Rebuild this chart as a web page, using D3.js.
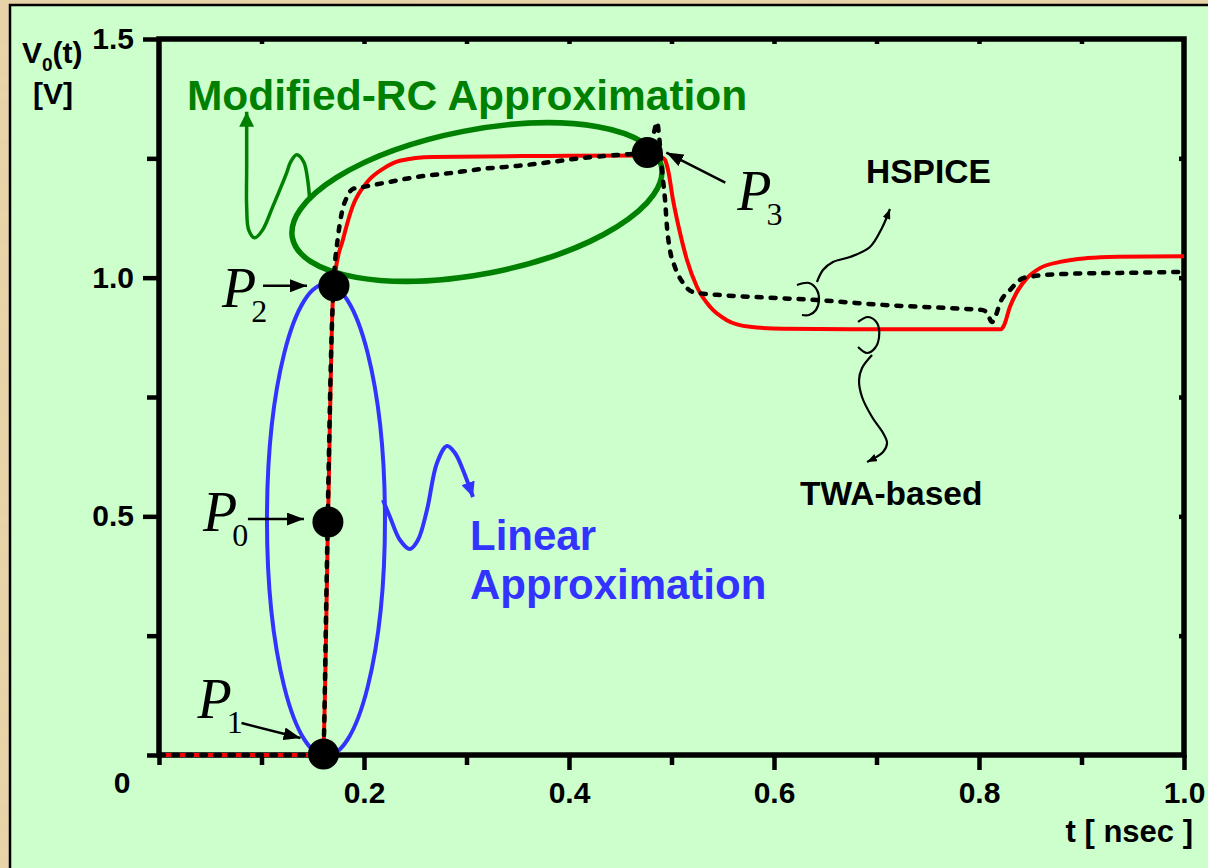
<!DOCTYPE html>
<html>
<head>
<meta charset="utf-8" />
<title>V0(t) - TWA-based vs HSPICE</title>
<script src="https://d3js.org/d3.v7.min.js"></script>
<style>
  body { margin: 0; background: #e9d4a7; }
  svg { display: block; }
</style>
</head>
<body>
<script>
// ---- data (t in nsec, V in volts) ----
const hspiceT = [0, 0.157, 0.1605, 0.163, 0.1655, 0.168, 0.1705, 0.1746, 0.1785, 0.1834, 0.1893, 0.199, 0.2185, 0.2517, 0.2839, 0.3161, 0.3493, 0.3815, 0.4137, 0.4468, 0.4693, 0.478, 0.483, 0.4859, 0.4878, 0.4898, 0.4917, 0.4937, 0.4956, 0.4985, 0.5034, 0.5112, 0.521, 0.5444, 0.5766, 0.642, 0.7063, 0.7717, 0.8039, 0.8078, 0.8127, 0.8166, 0.8205, 0.8302, 0.8429, 0.8527, 0.8859, 0.9376, 1.0];
const hspiceV = [0, 0, 0.02, 0.3, 0.6, 0.85, 0.99, 1.085, 1.138, 1.169, 1.186, 1.19, 1.198, 1.211, 1.219, 1.228, 1.234, 1.242, 1.251, 1.257, 1.261, 1.267, 1.305, 1.326, 1.299, 1.247, 1.205, 1.163, 1.106, 1.058, 1.022, 0.989, 0.97, 0.964, 0.96, 0.953, 0.943, 0.936, 0.932, 0.926, 0.907, 0.922, 0.947, 0.974, 0.999, 1.003, 1.008, 1.01, 1.012];

const twaT = [0, 0.1595, 0.1605, 0.165, 0.1695, 0.172, 0.1795, 0.189, 0.203, 0.2185, 0.235, 0.267, 0.381, 0.48, 0.4905, 0.4937, 0.4966, 0.5015, 0.5083, 0.5151, 0.525, 0.5376, 0.554, 0.5766, 0.609, 0.7, 0.8215, 0.8244, 0.8302, 0.837, 0.8468, 0.8595, 0.879, 0.9054, 0.935, 1.0];
const twaV = [0, 0, 0.02, 0.5, 0.95, 1.01, 1.08, 1.15, 1.2, 1.228, 1.245, 1.253, 1.255, 1.256, 1.252, 1.247, 1.226, 1.163, 1.094, 1.037, 0.98, 0.939, 0.911, 0.897, 0.893, 0.892, 0.892, 0.9, 0.939, 0.97, 0.999, 1.02, 1.033, 1.041, 1.044, 1.045];

const pointNames = ["0", "1", "2", "3"];
const pointT = [0.1648, 0.1605, 0.1707, 0.4764];
const pointV = [0.488, 0.002, 0.983, 1.262];

const xMajor = [0.2, 0.4, 0.6, 0.8, 1.0];
const xMinor = [0.1, 0.3, 0.5, 0.7, 0.9];
const yMajor = [0.5, 1.0, 1.5];
const yMinor = [0.25, 0.75, 1.25];

const width = 1208, height = 868;
const sans = "'Liberation Sans', Arial, Helvetica, sans-serif";
const serif = "'Liberation Serif', 'Times New Roman', serif";

const x = d3.scaleLinear().domain([0, 1]).range([159, 1184]);
const y = d3.scaleLinear().domain([0, 1.5]).range([755, 39]);

const svg = d3.select("body").append("svg")
  .attr("width", width).attr("height", height);

const defs = svg.append("defs");
const paper = defs.append("filter").attr("id", "paper")
  .attr("x", 0).attr("y", 0).attr("width", 1).attr("height", 1);
paper.append("feTurbulence").attr("type", "fractalNoise")
  .attr("baseFrequency", "0.02 0.07").attr("numOctaves", 3).attr("seed", 7);
paper.append("feColorMatrix").attr("type", "matrix")
  .attr("values", "0 0 0 0 0.78  0 0 0 0 0.64  0 0 0 0 0.42  1.4 0 0 0 -0.5");

// arrowheads
function marker(id, color, w, h) {
  defs.append("marker").attr("id", id)
    .attr("viewBox", `0 0 ${w} ${h}`)
    .attr("refX", w).attr("refY", h / 2)
    .attr("markerWidth", w).attr("markerHeight", h)
    .attr("markerUnits", "userSpaceOnUse")
    .attr("orient", "auto")
    .append("path").attr("d", `M0,0L${w},${h / 2}L0,${h}Z`).attr("fill", color);
}
marker("arBlack", "#000", 17, 13);
marker("arSmall", "#000", 10, 8);
marker("arGreen", "#008000", 15, 15);
marker("arBlue", "#3333ff", 15, 14);

// background
svg.append("rect").attr("width", width).attr("height", height).attr("fill", "#e9d4a7");
svg.append("rect").attr("width", width).attr("height", height).attr("filter", "url(#paper)");
svg.append("rect").attr("x", 10).attr("y", 5).attr("width", 1230).attr("height", 900)
  .attr("fill", "#ccffcc").attr("stroke", "#000").attr("stroke-width", 2.5);

// ---- axes ----
function styleAxis(g) {
  g.select(".domain").remove();
  g.selectAll(".tick line").attr("stroke", "#000").attr("stroke-width", 4.5);
  g.attr("font-family", sans).attr("font-size", 30).attr("font-weight", "bold");
  g.selectAll(".tick text").attr("fill", "#000");
}
svg.append("g").attr("transform", `translate(0,${y(0)})`)
  .call(d3.axisBottom(x).tickValues(xMajor).tickSize(15).tickPadding(12)
    .tickFormat(d3.format(".1f")).tickSizeOuter(0))
  .call(styleAxis);
svg.append("g").attr("transform", `translate(0,${y(0)})`)
  .call(d3.axisBottom(x).tickValues(xMinor.concat([0])).tickSize(10).tickFormat("").tickSizeOuter(0))
  .call(styleAxis);
svg.append("g").attr("transform", `translate(${x(0)},0)`)
  .call(d3.axisLeft(y).tickValues(yMajor).tickSize(16).tickPadding(9)
    .tickFormat(d3.format(".1f")).tickSizeOuter(0))
  .call(styleAxis);
svg.append("g").attr("transform", `translate(${x(0)},0)`)
  .call(d3.axisLeft(y).tickValues(yMinor.concat([0])).tickSize(12).tickFormat("").tickSizeOuter(0))
  .call(styleAxis);
svg.select("g:last-of-type").selectAll(".tick").filter(d => d === 0)
  .select("line").attr("x2", -16);
// small inward ticks on top and right
svg.append("g").attr("transform", `translate(0,${y(1.5)})`)
  .call(d3.axisTop(x).tickValues(xMinor.concat(xMajor.slice(0, 4))).tickSize(-5).tickFormat("").tickSizeOuter(0))
  .call(styleAxis);
svg.append("g").attr("transform", `translate(${x(1)},0)`)
  .call(d3.axisRight(y).tickValues(yMinor.concat([0.5, 1.0])).tickSize(-5).tickFormat("").tickSizeOuter(0))
  .call(styleAxis);
// frame
svg.append("rect").attr("x", x(0)).attr("y", y(1.5))
  .attr("width", x(1) - x(0)).attr("height", y(0) - y(1.5))
  .attr("fill", "none").attr("stroke", "#000").attr("stroke-width", 5.5);

// axis titles
const lbl = svg.append("g").attr("font-family", sans).attr("font-weight", "bold").attr("fill", "#000");
lbl.append("text").attr("x", 122).attr("y", 793).attr("font-size", 30).attr("text-anchor", "middle").text("0");
const vt = lbl.append("text").attr("x", 22).attr("y", 63).attr("font-size", 30);
vt.append("tspan").text("V");
vt.append("tspan").attr("font-size", 19).attr("dy", 8).text("0");
vt.append("tspan").attr("dy", -8).text("(t)");
lbl.append("text").attr("x", 33).attr("y", 104).attr("font-size", 30).text("[V]");
lbl.append("text").attr("x", 1193).attr("y", 842).attr("font-size", 31)
  .attr("text-anchor", "end").text("t [ nsec ]");

// ---- approximation ellipses ----
svg.append("ellipse")
  .attr("transform", `translate(${x(0.3102)},${y(1.1585)}) rotate(-11)`)
  .attr("rx", 188).attr("ry", 72)
  .attr("fill", "none").attr("stroke", "#008000").attr("stroke-width", 5.5);
svg.append("ellipse")
  .attr("cx", x(0.1629)).attr("cy", y(0.4923)).attr("rx", 59).attr("ry", 236)
  .attr("fill", "none").attr("stroke", "#3333ff").attr("stroke-width", 4);

// ---- curves ----
const line = d3.line().x(d => x(d[0])).y(d => y(d[1])).curve(d3.curveMonotoneX);
svg.append("path").datum(twaT.map((t, i) => [t, twaV[i]]))
  .attr("d", line).attr("fill", "none").attr("stroke", "#ff0000").attr("stroke-width", 4);
svg.append("path").datum(hspiceT.map((t, i) => [t, hspiceV[i]]))
  .attr("d", line).attr("fill", "none").attr("stroke", "#000")
  .attr("stroke-width", 4.5).attr("stroke-dasharray", "5,9").attr("stroke-linecap", "round");

// ---- squiggly annotation arrows (anchor in data units, shape in px offsets) ----
const wave = d3.line().curve(d3.curveCatmullRom.alpha(0.5));
function squiggle(t, v, pts, color, w, mk) {
  const ox = x(t), oy = y(v);
  const p = svg.append("path").attr("d", wave(pts.map(d => [ox + d[0], oy + d[1]])))
    .attr("fill", "none").attr("stroke", color).attr("stroke-width", w);
  if (mk) p.attr("marker-end", `url(#${mk})`);
}
squiggle(0.147, 1.163, [[0, 0], [-2, -20], [-6, -38], [-13, -45], [-19, -38], [-23, -27], [-37, 7], [-47, 30], [-55, 38], [-61, 30], [-63, 7], [-63, -33], [-63, -88]], "#008000", 3.5, "arGreen");
squiggle(0.2185, 0.5342, [[0, 0], [7, 17], [17, 40], [27, 49], [35, 40], [44, 10], [54, -37], [64, -54], [72, -47], [80, -30], [90, -3]], "#3333ff", 4, "arBlue");
// HSPICE marker loop and tail
squiggle(0.6341, 0.9574, [[-12, -13], [0, -15], [8, -8], [10, 2], [7, 12], [0, 17], [-7, 17]], "#000", 2.2);
squiggle(0.6341, 0.9574, [[8, -16], [14, -28], [24, -36], [41, -41], [61, -51], [73, -70], [81, -89]], "#000", 2.2, "arSmall");
// TWA marker loop and tail
squiggle(0.6937, 0.8841, [[-12, -11], [-2, -16], [7, -10], [9, 4], [5, 15], [-3, 20], [-12, 14]], "#000", 2.2);
squiggle(0.6937, 0.8841, [[2, 22], [-8, 35], [-11, 47], [-8, 64], [2, 84], [13, 100], [17, 110], [13, 119], [-3, 129]], "#000", 2.2, "arSmall");

// ---- annotation text ----
const ann = svg.append("g").attr("font-family", sans).attr("font-weight", "bold");
ann.append("text").attr("x", x(0.0273)).attr("y", y(1.3513)).attr("font-size", 42.5)
  .attr("fill", "#008000").text("Modified-RC Approximation");
ann.append("text").attr("x", x(0.3034)).attr("y", y(0.4295)).attr("font-size", 42)
  .attr("fill", "#3333ff").text("Linear");
ann.append("text").attr("x", x(0.3034)).attr("y", y(0.327)).attr("font-size", 42)
  .attr("fill", "#3333ff").text("Approximation");
ann.append("text").attr("x", x(0.6898)).attr("y", y(1.1984)).attr("font-size", 33.5)
  .attr("fill", "#000").text("HSPICE");
ann.append("text").attr("x", x(0.6254)).attr("y", y(0.5238)).attr("font-size", 33.5)
  .attr("fill", "#000").text("TWA-based");

// ---- P points: label (P + subscript in one text) and arrow ----
const labelOff = [
  { p: [-125, 9], a: [[-80, -3], [-24, -3]] },
  { p: [-126, -36], a: [[-82, -31], [-23, -16]] },
  { p: [-112, 21], a: [[-71, 0], [-27, 0]] },
  { p: [90, 57], a: [[78, 30], [19, 0]] }
];
pointNames.forEach((n, i) => {
  const cx = x(pointT[i]), cy = y(pointV[i]);
  const o = labelOff[i];
  svg.append("line")
    .attr("x1", cx + o.a[0][0]).attr("y1", cy + o.a[0][1])
    .attr("x2", cx + o.a[1][0]).attr("y2", cy + o.a[1][1])
    .attr("stroke", "#000").attr("stroke-width", 2.5).attr("marker-end", "url(#arBlack)");
  const t = svg.append("text").attr("x", cx + o.p[0]).attr("y", cy + o.p[1])
    .attr("font-family", serif).attr("font-size", 56);
  t.append("tspan").attr("font-style", "italic").text("P");
  t.append("tspan").attr("font-size", 32).attr("dx", -5).attr("dy", 15).text(n);
});
svg.append("g").selectAll("circle")
  .data(pointT.map((t, i) => [t, pointV[i]]))
  .join("circle")
  .attr("cx", d => x(d[0])).attr("cy", d => y(d[1])).attr("r", 15.5).attr("fill", "#000");
</script>
</body>
</html>
